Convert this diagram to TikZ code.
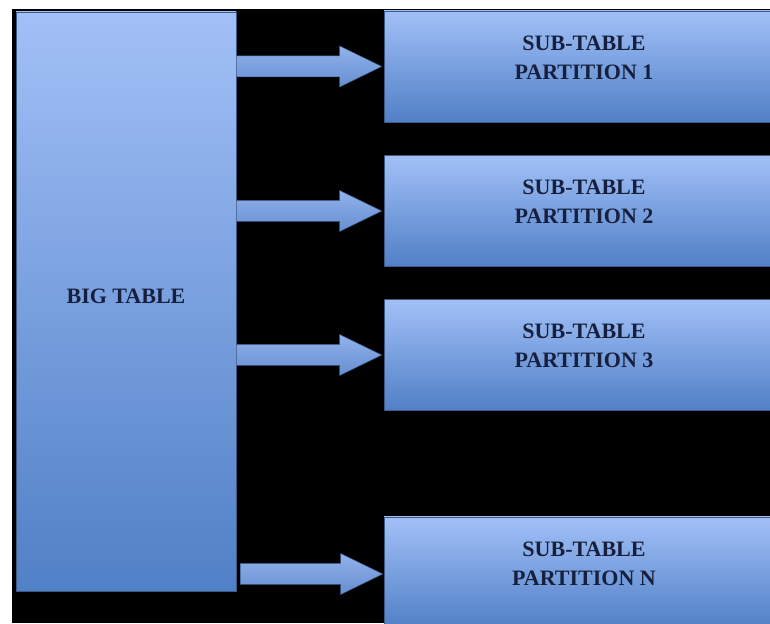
\documentclass[tikz,border=0pt]{standalone}
\usepackage{fontspec}
\setmainfont{Liberation Serif}
\usetikzlibrary{calc}
\definecolor{boxtop}{RGB}{162,192,247}
\definecolor{boxbot}{RGB}{80,128,198}
\definecolor{boxedge}{RGB}{60,88,135}
\definecolor{arrowlite}{RGB}{172,200,246}
\definecolor{arrowtop}{RGB}{145,178,236}
\definecolor{arrowbot}{RGB}{102,142,208}
\definecolor{inktext}{RGB}{22,32,62}
\tikzset{
  tablebox/.style={rectangle,draw=boxedge,line width=0.6pt,top color=boxtop,bottom color=boxbot,inner sep=0pt},
  tabletext/.style={font=\bfseries\fontsize{22}{29}\selectfont,text=inktext,align=center},
  fatarrow/.style={draw=boxedge,line width=0.5pt,top color=arrowtop,middle color=arrowlite,bottom color=arrowbot}
}
% block arrow from a start point to a tip point
\newcommand\blockarrow[2]{%
  \path[fatarrow] ($(#1)+(0,10.5)$) -- ($(#2)+(-42,10.5)$) -- ($(#2)+(-42,20.5)$) -- (#2)
    -- ($(#2)+(-42,-20.5)$) -- ($(#2)+(-42,-10.5)$) -- ($(#1)+(0,-10.5)$) -- cycle;}
\begin{document}
\begin{tikzpicture}[x=1pt,y=1pt]
  \useasboundingbox (0,0) rectangle (770,623);
  \clip (0,0) rectangle (770,623);
  \fill[white] (0,0) rectangle (770,623);
  \fill[black] (12,0) rectangle (770,614);
  \node[tablebox,minimum width=220pt,minimum height=579pt,
    label={[tabletext,yshift=5pt]center:BIG TABLE}] (big) at (126,321.5) {};
  \foreach \n/\y/\t in {1/556.5/1,2/412/2,3/268/3,4/50.5/N}
    \node[tablebox,minimum width=400pt,minimum height=111pt,
      label={[tabletext,yshift=9pt]center:SUB-TABLE\\PARTITION \t}] (sub\n) at (584,\y) {};
  \coordinate (s1) at (big.east |- sub1.west);
  \coordinate (s2) at (big.east |- sub2.west);
  \coordinate (s3) at (big.east |- sub3.west);
  \coordinate (s4) at ($(big.east |- sub4.west)+(4,-1.5)$);
  \coordinate (t1) at ($(sub1.west)+(-2,0)$);
  \coordinate (t2) at ($(sub2.west)+(-2,0)$);
  \coordinate (t3) at ($(sub3.west)+(-2,0)$);
  \coordinate (t4) at ($(sub4.west)+(-1,-1.5)$);
  \blockarrow{s1}{t1}
  \blockarrow{s2}{t2}
  \blockarrow{s3}{t3}
  \blockarrow{s4}{t4}
\end{tikzpicture}
\end{document}
